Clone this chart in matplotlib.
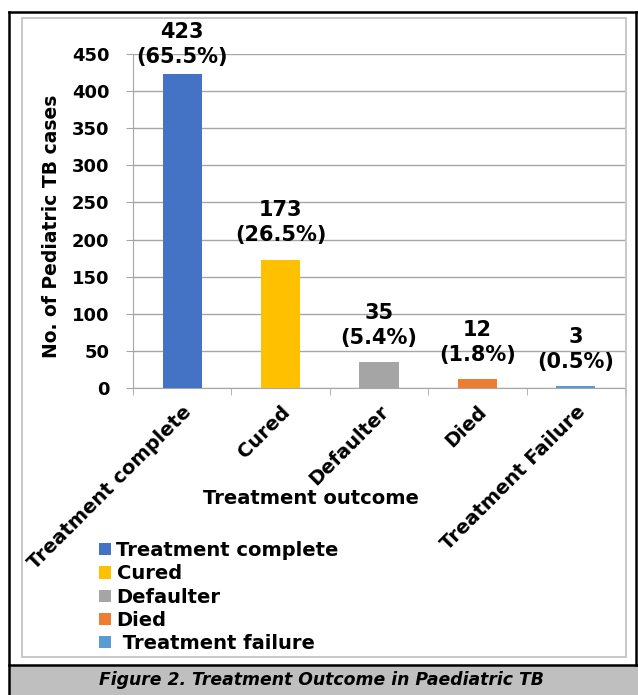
import matplotlib.pyplot as plt
from matplotlib.patches import Rectangle, Patch
from matplotlib.lines import Line2D

# treatment outcome counts
categories = ["Treatment complete", "Cured", "Defaulter", "Died", "Treatment Failure"]
legend_names = ["Treatment complete", "Cured", "Defaulter", "Died", " Treatment failure"]
cases = [423, 173, 35, 12, 3]
percent = [65.5, 26.5, 5.4, 1.8, 0.5]
colors = ["#4472C4", "#FFC000", "#A5A5A5", "#ED7D31", "#5B9BD5"]
yticks = [0, 50, 100, 150, 200, 250, 300, 350, 400, 450]

plt.rcParams['font.family'] = ['DejaVu Sans']
plt.rcParams['font.weight'] = 'bold'

W, H = 638, 695
fig = plt.figure(figsize=(W / 100, H / 100), dpi=100)

def fx(px):
    return px / W

def fy(py):
    return 1 - py / H

# frame around the figure + caption strip
fig.add_artist(Rectangle((fx(9), 0), fx(638) - fx(9), fy(665), transform=fig.transFigure,
                         facecolor="#BFBFBF", edgecolor="none", zorder=0))
fig.add_artist(Rectangle((fx(22), fy(657)), fx(626) - fx(22), fy(18) - fy(657), transform=fig.transFigure,
                         facecolor="none", edgecolor="#BFBFBF", lw=1.2, zorder=1))
for xs, ys in [((fx(9), fx(9)), (0, fy(12))),
               ((fx(9), 1), (fy(12), fy(12))),
               ((fx(636), fx(636)), (fy(12), fy(665))),
               ((fx(9), 1), (fy(665), fy(665)))]:
    fig.add_artist(Line2D(xs, ys, transform=fig.transFigure, color="black", lw=1.8))

ax = fig.add_axes([fx(133), fy(388), fx(625) - fx(133), fy(54) - fy(388)])
x = list(range(len(categories)))
ax.bar(x, cases, width=0.4, color=colors, zorder=3)
ax.set_xlim(-0.5, len(categories) - 0.5)
ax.set_ylim(0, 450)
ax.set_yticks(yticks)
ax.grid(axis='y', color="#A6A6A6", lw=1, zorder=0)
for s in ['top', 'right']:
    ax.spines[s].set_visible(False)
for s in ['left', 'bottom']:
    ax.spines[s].set_color("#A6A6A6")
ax.tick_params(axis='y', length=5, color="#A6A6A6", labelsize=13, pad=12)
ax.set_xticks(x)
ax.set_xticklabels(categories, rotation=45, ha='right', va='top', rotation_mode='anchor', fontsize=14)
ax.tick_params(axis='x', which='major', length=0, pad=10)
ax.set_xticks([i - 0.5 for i in range(len(categories) + 1)], minor=True)
ax.tick_params(axis='x', which='minor', length=5, color="#A6A6A6")

# value labels above the bars, kept below the top of the frame
for i, (v, p) in enumerate(zip(cases, percent)):
    ax.text(i, min(v + 19, 432), f"{v}\n({p}%)", ha='center', va='bottom',
            fontsize=15, fontweight='bold', linespacing=1.32)

fig.text(fx(52), fy(226), "No. of Pediatric TB cases", rotation=90, ha='center', va='center',
         fontsize=13.5, fontweight='bold')
fig.text(fx(311), fy(498), "Treatment outcome", ha='center', va='center', fontsize=14, fontweight='bold')

handles = [Patch(facecolor=c, edgecolor='none') for c in colors]
fig.legend(handles, legend_names, loc='upper left', bbox_to_anchor=(fx(99), fy(541)),
           frameon=False, fontsize=14, borderpad=0, borderaxespad=0,
           handlelength=0.6, handleheight=0.6, handletextpad=0.3, labelspacing=0.22)

fig.text(fx(321), fy(680), "Figure 2. Treatment Outcome in Paediatric TB", ha='center', va='center',
         fontsize=12.4, fontweight='bold', fontstyle='italic')

fig.savefig("out.png", dpi=100)
